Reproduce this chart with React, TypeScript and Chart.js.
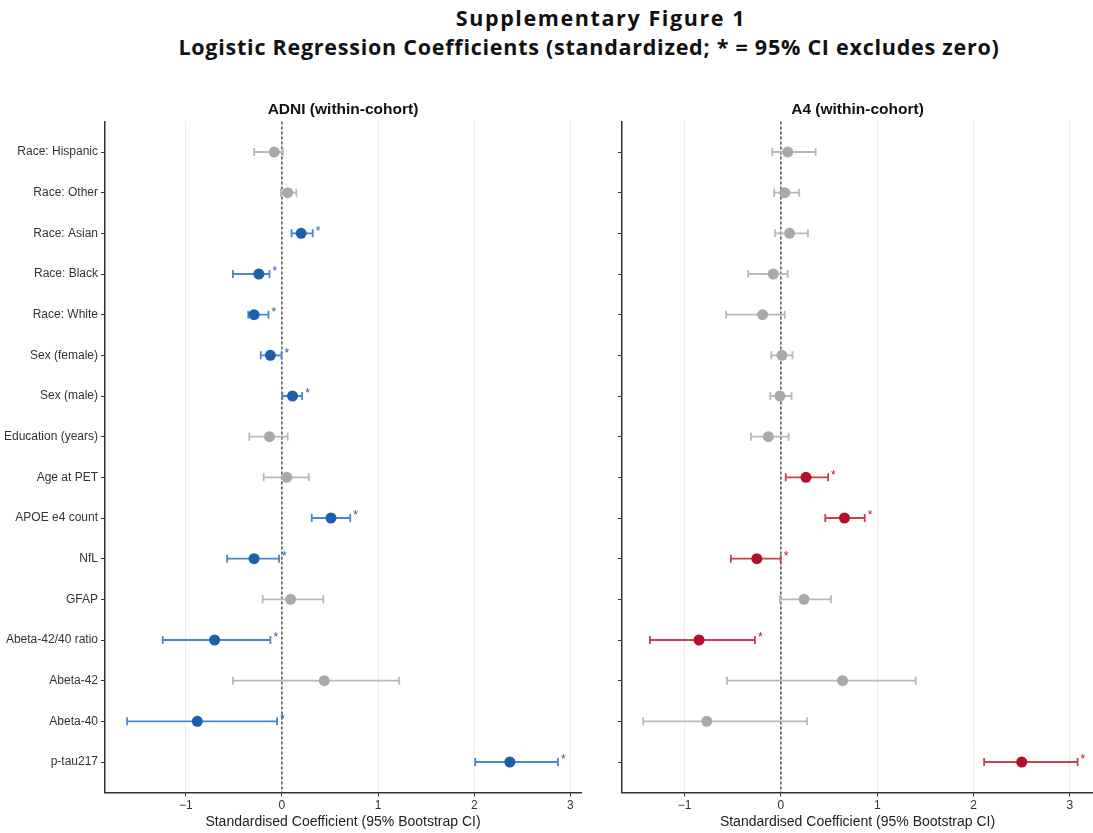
import React, { useEffect, useRef } from 'react';
import { Chart, registerables } from 'chart.js';
Chart.register(...registerables);

const categories = [
  'Race: Hispanic', 'Race: Other', 'Race: Asian', 'Race: Black', 'Race: White',
  'Sex (female)', 'Sex (male)', 'Education (years)', 'Age at PET', 'APOE e4 count',
  'NfL', 'GFAP', 'Abeta-42/40 ratio', 'Abeta-42', 'Abeta-40', 'p-tau217',
];

const adniCoef = [-0.08, 0.06, 0.20, -0.24, -0.29, -0.12, 0.11, -0.13, 0.05, 0.51, -0.29, 0.09, -0.70, 0.44, -0.88, 2.37];
const adniLow = [-0.29, -0.01, 0.10, -0.51, -0.35, -0.22, 0.005, -0.34, -0.19, 0.31, -0.57, -0.20, -1.24, -0.51, -1.61, 2.01];
const adniHigh = [0.01, 0.15, 0.32, -0.13, -0.14, -0.005, 0.21, 0.06, 0.28, 0.71, -0.03, 0.43, -0.12, 1.22, -0.05, 2.87];

const a4Coef = [0.07, 0.04, 0.09, -0.08, -0.19, 0.01, -0.01, -0.13, 0.26, 0.66, -0.25, 0.24, -0.85, 0.64, -0.77, 2.50];
const a4Low = [-0.09, -0.07, -0.06, -0.34, -0.57, -0.10, -0.11, -0.31, 0.05, 0.46, -0.52, -0.01, -1.36, -0.56, -1.43, 2.11];
const a4High = [0.36, 0.19, 0.28, 0.07, 0.04, 0.12, 0.11, 0.08, 0.49, 0.87, -0.003, 0.52, -0.27, 1.40, 0.27, 3.08];

const xTicks = [-1, 0, 1, 2, 3];

const FONT = "'Liberation Sans', Arial, sans-serif";
const AXIS = '#333333';
const GRAY_DOT = '#a9a9a9';
const GRAY_BAR = '#b9b9b9';

type Palette = { dot: string; bar: string };
const BLUE: Palette = { dot: '#1c5fad', bar: '#4a86c8' };
const RED: Palette = { dot: '#b3112b', bar: '#c9404f' };

function makePlugin(low: number[], high: number[], pal: Palette) {
  const sig = low.map((l, i) => l > 0 || high[i] < 0);
  return {
    id: 'forest',
    beforeDatasetsDraw(chart: any) {
      const { ctx, chartArea, scales } = chart;
      const x = scales.x, y = scales.y;
      ctx.save();
      const x0 = x.getPixelForValue(0);
      ctx.strokeStyle = '#3a3a3a';
      ctx.lineWidth = 1.3;
      ctx.setLineDash([3, 2]);
      ctx.beginPath();
      ctx.moveTo(x0, chartArea.top);
      ctx.lineTo(x0, chartArea.bottom);
      ctx.stroke();
      ctx.setLineDash([]);
      ctx.lineWidth = 1.8;
      for (let i = 0; i < low.length; i++) {
        const yy = y.getPixelForValue(i);
        const x1 = x.getPixelForValue(low[i]);
        const x2 = x.getPixelForValue(high[i]);
        ctx.strokeStyle = sig[i] ? pal.bar : GRAY_BAR;
        ctx.beginPath();
        ctx.moveTo(x1, yy);
        ctx.lineTo(x2, yy);
        ctx.moveTo(x1, yy - 4);
        ctx.lineTo(x1, yy + 4);
        ctx.moveTo(x2, yy - 4);
        ctx.lineTo(x2, yy + 4);
        ctx.stroke();
      }
      ctx.restore();
    },
    afterDatasetsDraw(chart: any) {
      const { ctx, scales } = chart;
      const x = scales.x, y = scales.y;
      ctx.save();
      ctx.font = `12px ${FONT}`;
      ctx.textAlign = 'left';
      ctx.textBaseline = 'middle';
      ctx.fillStyle = pal.dot;
      for (let i = 0; i < low.length; i++) {
        if (!sig[i]) continue;
        const yy = y.getPixelForValue(i);
        const x2 = x.getPixelForValue(high[i]);
        ctx.fillText('*', x2 + 3, yy - 2);
      }
      ctx.restore();
    },
  };
}

function makeConfig(
  title: string,
  coef: number[],
  low: number[],
  high: number[],
  pal: Palette,
  xmin: number,
  xmax: number,
  showLabels: boolean,
  yWidth: number,
  padRight: number,
): any {
  const sig = low.map((l, i) => l > 0 || high[i] < 0);
  return {
    type: 'scatter',
    data: {
      datasets: [
        {
          data: coef.map((v, i) => ({ x: v, y: i })),
          pointBackgroundColor: coef.map((_, i) => (sig[i] ? pal.dot : GRAY_DOT)),
          pointBorderWidth: 0,
          pointRadius: 5.5,
          pointHoverRadius: 5.5,
          showLine: false,
        },
      ],
    },
    plugins: [makePlugin(low, high, pal)],
    options: {
      animation: false,
      responsive: false,
      maintainAspectRatio: false,
      layout: { padding: { left: 0, right: padRight, top: 0, bottom: 0 } },
      plugins: {
        legend: { display: false },
        tooltip: { enabled: false },
        title: {
          display: true,
          fullSize: false,
          text: title,
          color: '#111111',
          font: { family: FONT, size: 15.5, weight: 'bold' },
          padding: { top: 10, bottom: 2.9 },
        },
      },
      scales: {
        x: {
          type: 'linear',
          min: xmin,
          max: xmax,
          afterBuildTicks: (axis: any) => {
            axis.ticks = xTicks.map((v) => ({ value: v }));
          },
          afterFit: (axis: any) => {
            axis.height = 40.5;
          },
          ticks: {
            color: '#333333',
            font: { family: FONT, size: 12 },
            padding: 2,
            callback: (v: any) => (v < 0 ? '\u2212' + Math.abs(v) : String(v)),
          },
          grid: {
            color: '#ececec',
            lineWidth: 1,
            tickColor: AXIS,
            tickLength: 4,
            tickWidth: 1,
          },
          border: { display: true, color: AXIS, width: 1.5 },
          title: {
            display: true,
            text: 'Standardised Coefficient (95% Bootstrap CI)',
            color: '#222222',
            font: { family: FONT, size: 14 },
            padding: { top: 0, bottom: 2.6 },
          },
        },
        y: {
          type: 'linear',
          min: -0.75,
          max: 15.75,
          reverse: true,
          afterBuildTicks: (axis: any) => {
            axis.ticks = categories.map((_, i) => ({ value: i }));
          },
          afterFit: (axis: any) => {
            axis.width = yWidth;
          },
          ticks: {
            display: showLabels,
            color: '#333333',
            font: { family: FONT, size: 12 },
            padding: 3,
            callback: (v: any) => categories[v] ?? '',
          },
          grid: {
            drawOnChartArea: false,
            tickColor: AXIS,
            tickLength: 4,
            tickWidth: 1,
          },
          border: { display: true, color: AXIS, width: 1.5 },
        },
      },
    },
  };
}

function Panel(props: { cfg: any; left: number; width: number }) {
  const ref = useRef<HTMLCanvasElement | null>(null);
  useEffect(() => {
    if (!ref.current) return;
    const chart = new Chart(ref.current, props.cfg);
    return () => chart.destroy();
  }, []);
  return (
    <div style={{ position: 'absolute', left: props.left, top: 90, width: props.width, height: 743 }}>
      <canvas ref={ref} width={props.width} height={743} style={{ width: props.width, height: 743, display: 'block' }} />
    </div>
  );
}

const titleStyle: any = {
  position: 'absolute', left: 0, textAlign: 'center', whiteSpace: 'nowrap',
  fontFamily: "'Open Sans', Inter, sans-serif", fontWeight: 700, fontSize: 21.5, lineHeight: '28px', color: '#111',
};

export default function App() {
  const leftCfg = makeConfig('ADNI (within-cohort)', adniCoef, adniLow, adniHigh, BLUE, -1.84, 3.11, true, 105, 19);
  const rightCfg = makeConfig('A4 (within-cohort)', a4Coef, a4Low, a4High, RED, -1.65, 3.24, false, 22, 17);
  return (
    <div style={{ position: 'fixed', left: 0, top: 0, width: 1093, height: 833, background: '#ffffff', overflow: 'hidden' }}>
      <div style={{ ...titleStyle, width: 1202, top: 4, letterSpacing: '1.6px' }}>Supplementary Figure 1</div>
      <div style={{ ...titleStyle, width: 1178, top: 33, letterSpacing: '0.75px' }}>
        Logistic Regression Coefficients (standardized; * = 95% CI excludes zero)
      </div>
      <Panel cfg={leftCfg} left={0} width={600} />
      <Panel cfg={rightCfg} left={600} width={510} />
    </div>
  );
}
